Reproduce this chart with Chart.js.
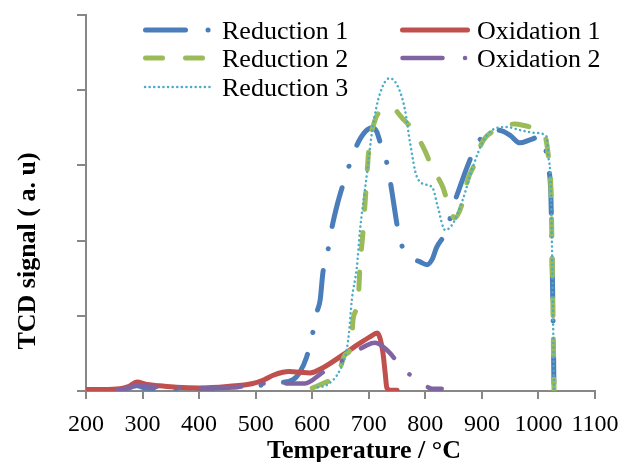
<!DOCTYPE html>
<html>
<head>
<meta charset="utf-8">
<script src="https://cdn.jsdelivr.net/npm/chart.js@4"></script>
<style>
  html, body { margin: 0; padding: 0; background: #fff; }
  #wrap { width: 621px; height: 462px; }
</style>
</head>
<body>
<div id="wrap"><canvas id="c" width="621" height="462"></canvas></div>
<script>
// Temperature (°C) and TCD signal (a.u.) for each run
const reduction1T = [250,275,290,305,350,400,450,500,540,566,578,590,600,608,614,619,628,635,645,653,665,679,694,706,714,720,732,739,745,750,760,775,790,803,812,820,838,849,861,875,888,905,920,935,950,967,985,1003,1011,1017,1022,1024,1026,1027.5];
const reduction1V = [0.01,0.04,0.07,0.04,0.03,0.03,0.05,0.07,0.11,0.15,0.25,0.45,0.74,1.04,1.21,1.58,1.88,2.18,2.5,2.71,2.99,3.27,3.45,3.50,3.45,3.31,3.03,2.74,2.45,2.21,1.90,1.77,1.72,1.68,1.75,1.91,2.14,2.45,2.71,3.0,3.23,3.42,3.47,3.46,3.40,3.30,3.34,3.38,3.30,2.98,2.6,1.8,0.9,0];

const reduction2T = [600,610,625,644,658,670,672,681,684,690,695,700,711,720,729,740,759,782,799,812,831,840,852,866,875,888,900,923,940,958,975,990,1011,1017,1022,1024,1026,1027.5];
const reduction2V = [0.04,0.07,0.12,0.19,0.48,0.64,0.94,1.17,1.6,2.14,2.67,3.2,3.6,3.72,3.76,3.77,3.63,3.43,3.2,2.97,2.71,2.5,2.3,2.51,2.81,3.03,3.30,3.47,3.53,3.55,3.53,3.50,3.40,3.16,2.7,1.9,0.9,0];

const reduction3T = [610,626,649,661,665,670,679,684,697,707,720,737,752,764,773,785,803,813,822,835,849,866,884,905,927,944,967,997,1015,1017,1022,1024,1026,1027.5];
const reduction3V = [0.05,0.08,0.28,0.55,0.77,1.21,1.65,2.1,2.9,3.51,3.96,4.16,4.04,3.74,3.30,2.85,2.74,2.70,2.45,2.14,2.23,2.54,2.98,3.36,3.50,3.51,3.47,3.43,3.38,3.16,2.7,1.9,0.9,0];

const oxidation1T = [200,230,260,275,290,305,330,360,400,450,495,515,531,548,559,578,596,619,654,679,702,715,720,725,729,732,738,750];
const oxidation1V = [0.02,0.02,0.03,0.06,0.12,0.09,0.07,0.05,0.04,0.06,0.10,0.15,0.21,0.25,0.26,0.25,0.24,0.31,0.48,0.61,0.72,0.77,0.70,0.51,0.24,0.04,0.01,0.01];

const oxidation2T = [255,275,290,310,350,400,442,475,508,548,587,619,661,697,711,725,738,752,780,800,813,829];
const oxidation2V = [0.01,0.04,0.08,0.06,0.05,0.04,0.04,0.06,0.10,0.10,0.10,0.25,0.44,0.61,0.64,0.59,0.50,0.37,0.17,0.07,0.03,0.03];

const xTicks = { min: 200, max: 1100, step: 100 };
const yTicks = { min: 0, max: 5, step: 1 };

const pts = (xs, ys) => xs.map((x, i) => ({ x, y: ys[i] }));

const AXIS = '#878787';
const SERIF = '"Liberation Serif", "Times New Roman", serif';

const series = [
  { label: 'Reduction 1', data: pts(reduction1T, reduction1V), borderColor: '#4A7EBB', borderWidth: 5, borderDash: [40, 22.5, 0.1, 22.5], order: 5 },
  { label: 'Oxidation 1', data: pts(oxidation1T, oxidation1V), borderColor: '#C0504D', borderWidth: 5, borderDash: [], order: 4 },
  { label: 'Reduction 2', data: pts(reduction2T, reduction2V), borderColor: '#9BBB59', borderWidth: 5, borderDash: [17, 23], order: 3 },
  { label: 'Oxidation 2', data: pts(oxidation2T, oxidation2V), borderColor: '#8064A2', borderWidth: 4.5, borderDash: [40, 22.5, 0.1, 22.5], order: 2 },
  { label: 'Reduction 3', data: pts(reduction3T, reduction3V), borderColor: '#4BACC6', borderWidth: 2.5, borderDash: [0.1, 4.5], order: 1 }
];

// Legend entries: [dataset index, sample start x, sample end x, text x, line y]
const legendLayout = [
  [0, 145.5, 209, 222, 30],
  [1, 402.5, 467.5, 477, 30],
  [2, 145.5, 203, 222, 58],
  [3, 402.5, 466, 477, 58],
  [4, 145, 212, 222, 87]
];

const decorations = {
  id: 'decorations',
  afterDraw(chart) {
    const ctx = chart.ctx;
    const ds = chart.data.datasets;
    ctx.save();
    // legend
    legendLayout.forEach(([i, x0, x1, tx, y]) => {
      const d = ds[i];
      ctx.beginPath();
      ctx.strokeStyle = d.borderColor;
      ctx.lineWidth = d.borderWidth;
      ctx.lineCap = 'round';
      ctx.setLineDash(d.borderDash);
      ctx.moveTo(x0, y);
      ctx.lineTo(x1, y);
      ctx.stroke();
      ctx.setLineDash([]);
      ctx.fillStyle = '#000';
      ctx.font = '26px ' + SERIF;
      ctx.textAlign = 'left';
      ctx.textBaseline = 'alphabetic';
      ctx.fillText(d.label, tx, y + 9);
    });
    // axis titles
    ctx.font = 'bold 26px ' + SERIF;
    ctx.fillStyle = '#000';
    ctx.textAlign = 'center';
    ctx.textBaseline = 'alphabetic';
    ctx.fillText('Temperature / °C', 364, 458);
    ctx.translate(35, 251);
    ctx.rotate(-Math.PI / 2);
    ctx.fillText('TCD signal ( a. u)', 0, 0);
    ctx.restore();
  }
};

new Chart(document.getElementById('c'), {
  type: 'line',
  data: {
    datasets: series.map(s => Object.assign({
      fill: false,
      pointRadius: 0,
      pointHoverRadius: 0,
      borderCapStyle: 'round',
      borderJoinStyle: 'round',
      tension: 0.4,
      cubicInterpolationMode: 'monotone'
    }, s))
  },
  options: {
    responsive: false,
    animation: false,
    devicePixelRatio: 1,
    layout: { padding: { top: 15, right: 26, left: 0, bottom: 0 } },
    plugins: { legend: { display: false }, tooltip: { enabled: false } },
    scales: {
      x: {
        type: 'linear',
        min: xTicks.min,
        max: xTicks.max,
        afterFit(s) { s.height = 71; s.paddingLeft = 0; s.paddingRight = 0; },
        ticks: {
          stepSize: xTicks.step,
          autoSkip: false,
          maxRotation: 0,
          padding: 11,
          color: '#000',
          font: { family: SERIF, size: 24 },
          callback: v => String(v)
        },
        grid: { drawOnChartArea: false, drawTicks: true, tickLength: 8, color: AXIS, lineWidth: 2 },
        border: { color: AXIS, width: 2 }
      },
      y: {
        min: yTicks.min,
        max: yTicks.max,
        afterFit(s) { s.width = 86; s.paddingTop = 0; s.paddingBottom = 0; },
        ticks: { stepSize: yTicks.step, display: false },
        grid: { drawOnChartArea: false, drawTicks: true, tickLength: 9, color: AXIS, lineWidth: 2 },
        border: { color: AXIS, width: 2 }
      }
    }
  },
  plugins: [decorations]
});
</script>
</body>
</html>
